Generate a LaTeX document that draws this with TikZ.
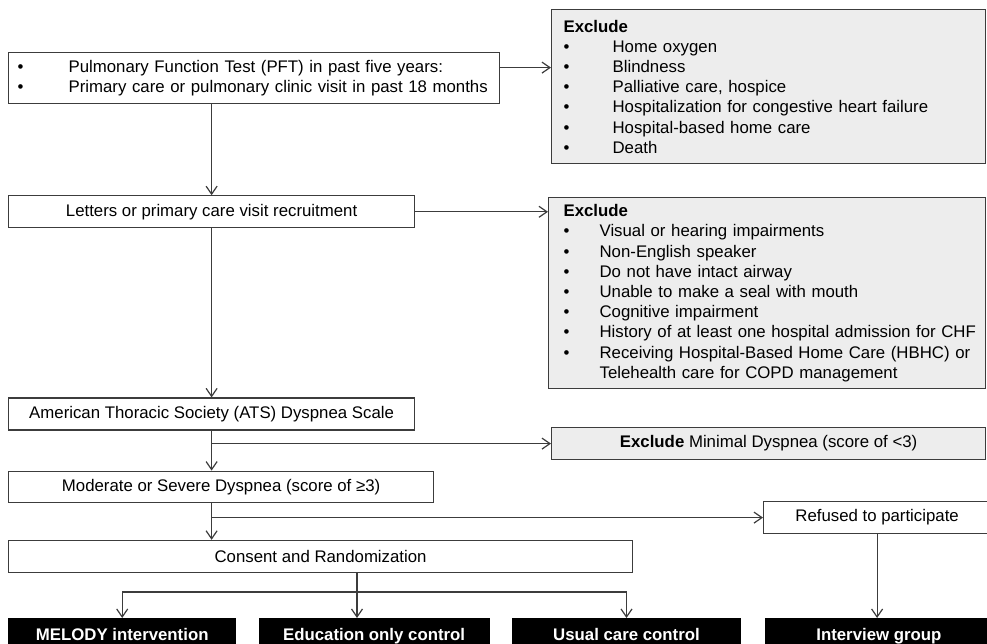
\documentclass[tikz,border=0pt]{standalone}
\usepackage{fontspec}
\setmainfont{Liberation Sans}
\usepackage{tikz}
\usetikzlibrary{positioning, arrows.meta}
\definecolor{copdline}{HTML}{3C3C3C}
\definecolor{copdfill}{HTML}{EDEDED}
\newcommand{\bul}[2]{\makebox[#1][l]{\textbullet}\mbox{#2}}

\begin{document}
\begin{tikzpicture}[x=1pt, y=-1pt, font=\fontsize{16.8}{20.2}\selectfont,
  box/.style={draw=copdline, line width=1.2pt, fill=white, minimum height=32pt, inner sep=0pt, anchor=north west},
  exclbox/.style={box, fill=copdfill, align=left},
  armbox/.style={fill=black, text=white, font=\fontsize{16.8}{20.2}\selectfont\bfseries, minimum height=35.5pt, text height=12pt, text depth=3.5pt, inner sep=0pt},
  arr/.style={draw=copdline, line width=1.2pt, -{Straight Barb[length=8pt, width=11pt]}},
  link/.style={draw=copdline, line width=1.2pt}]

\useasboundingbox (0,0) rectangle (987,643);

% main column
\node[box, minimum width=491pt, minimum height=51pt, text width=473pt, inner xsep=9pt, align=left] (inc) at (8,52)
  {\bul{51pt}{Pulmonary Function Test (PFT) in past five years:}\\
   \bul{51pt}{Primary care or pulmonary clinic visit in past 18 months}};
\node[box, below=91pt of inc.south west, anchor=north west, minimum width=406pt] (letters) {Letters or primary care visit recruitment};
\node[box, below=169pt of letters.south west, anchor=north west, minimum width=406pt] (ats) {American Thoracic Society (ATS) Dyspnea Scale};
\node[box, below=40pt of ats.south west, anchor=north west, minimum width=425pt, minimum height=31pt] (moderate) {Moderate or Severe Dyspnea (score of ≥3)};
\node[box, below=37pt of moderate.south west, anchor=north west, minimum width=624pt] (consent) {Consent and Randomization};

% exclusions
\node[exclbox, minimum width=434pt, minimum height=154pt, text width=410pt, inner xsep=12pt] (excl1) at (551,9)
  {\textbf{Exclude}\\
   \bul{49pt}{Home oxygen}\\
   \bul{49pt}{Blindness}\\
   \bul{49pt}{Palliative care, hospice}\\
   \bul{49pt}{Hospitalization for congestive heart failure}\\
   \bul{49pt}{Hospital-based home care}\\
   \bul{49pt}{Death}};
\node[exclbox, minimum width=437pt, minimum height=191pt, text width=407pt, inner xsep=15pt] (excl2) at (548,197)
  {\textbf{Exclude}\\
   \bul{36pt}{Visual or hearing impairments}\\
   \bul{36pt}{Non-English speaker}\\
   \bul{36pt}{Do not have intact airway}\\
   \bul{36pt}{Unable to make a seal with mouth}\\
   \bul{36pt}{Cognitive impairment}\\
   \bul{36pt}{History of at least one hospital admission for CHF}\\
   \bul{36pt}{Receiving Hospital-Based Home Care (HBHC) or}\\
   \makebox[36pt]{}\mbox{Telehealth care for COPD management}};
\node[box, fill=copdfill, minimum width=434pt] (excl3) at (551,427) {\textbf{Exclude} Minimal Dyspnea (score of <3)};
\node[box, minimum width=227pt] (refused) at (763,501) {Refused to participate};

% study arms
\node[armbox, below=45pt of consent.south west, anchor=north west, minimum width=228pt] (melody) {MELODY intervention};
\node[armbox, right=22pt of melody, minimum width=231pt] (edu) {Education only control};
\node[armbox, right=22pt of edu, minimum width=229pt] (usual) {Usual care control};
\node[armbox, right=24pt of usual, minimum width=227pt] (interview) {Interview group};

% connectors
\draw[arr] ([yshift=10.5pt]inc.east) -- ([yshift=10.5pt]inc.east -| excl1.west);
\draw[arr] (inc.south -| letters.south) -- (letters.north);
\draw[arr] (letters.east) -- (letters.east -| excl2.west);
\draw[arr] (letters.south) -- (ats.north);
\draw[arr] (ats.south) -- (ats.south |- moderate.north);
\draw[arr] (ats.south |- excl3.west) -- (excl3.west);
\draw[arr] (ats.south |- moderate.south) -- (ats.south |- consent.north);
\draw[arr] (ats.south |- refused.west) -- (refused.west);
\coordinate (split) at (357,592);
\draw[link] (melody.north |- split) -- (usual.north |- split);
\draw[arr] (consent.south -| split) -- (split |- edu.north);
\draw[arr] (melody.north |- split) -- (melody.north);
\draw[arr] (usual.north |- split) -- (usual.north);
\draw[arr] (refused.south) -- (refused.south |- interview.north);
\end{tikzpicture}
\end{document}
